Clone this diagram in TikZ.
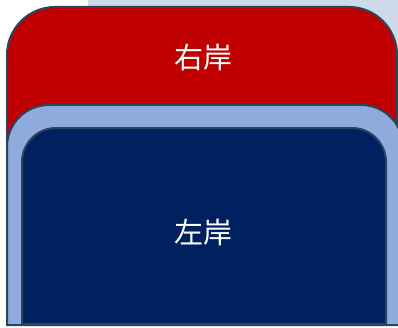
\documentclass[tikz,border=0pt]{standalone}
\usepackage{fontspec}
\newfontfamily\cjk{Noto Sans CJK SC}
\definecolor{bankred}{HTML}{C00000}
\definecolor{lightband}{HTML}{8FAADC}
\definecolor{navy}{HTML}{002060}
\definecolor{edge}{HTML}{2B4560}
\definecolor{bgblue}{HTML}{CDDAEA}
\tikzset{
  shapeedge/.style={draw=edge, line width=2pt},
  label/.style={text=white, font=\cjk\fontsize{29}{34}\selectfont, inner sep=0pt}
}
\begin{document}
\begin{tikzpicture}[x=1pt,y=1pt]
\useasboundingbox (0,0) rectangle (398,327);
\fill[white] (0,0) rectangle (398,327);
\fill[bgblue] (88,200) rectangle (398,327);
% red (right bank)
\path[shapeedge, fill=bankred] (7,127) -- (7,272) arc[start angle=180,end angle=90,radius=48] -- (349,320) arc[start angle=90,end angle=0,radius=48] -- (397,127) -- cycle;
% light blue band
\path[shapeedge, fill=lightband] (7,2) -- (7,180) arc[start angle=180,end angle=90,radius=42] -- (361,222) arc[start angle=90,end angle=0,radius=42] -- (403,2) -- cycle;
% navy (left bank)
\path[shapeedge, fill=navy] (22,3) -- (22,165) arc[start angle=180,end angle=90,radius=34] -- (352,199) arc[start angle=90,end angle=0,radius=34] -- (386,3) -- cycle;
\node[label] (right) at (203,270) {右岸};
\node[label] (left) at (203,95) {左岸};
\end{tikzpicture}
\end{document}
